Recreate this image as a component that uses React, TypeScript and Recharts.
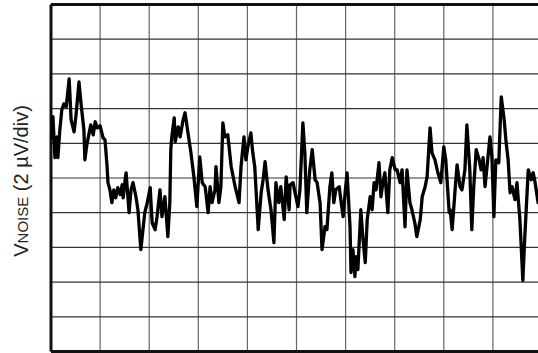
import React from 'react';
import { LineChart, Line, XAxis, YAxis, CartesianGrid, ReferenceLine } from 'recharts';

// time (s), 1 s/div
const timeS = [
  0.02, 0.04, 0.08, 0.12, 0.14, 0.18, 0.22, 0.26, 0.31, 0.37, 0.41, 0.47, 0.51, 0.57, 0.61, 0.67, 0.69, 0.73, 0.75, 0.81,
  0.86, 0.9, 0.94, 1.0, 1.06, 1.1, 1.14, 1.16, 1.2, 1.24, 1.28, 1.32, 1.36, 1.41, 1.45, 1.47, 1.51, 1.53, 1.57, 1.59,
  1.63, 1.67, 1.73, 1.77, 1.83, 1.91, 1.96, 2.02, 2.06, 2.12, 2.16, 2.22, 2.26, 2.32, 2.38, 2.42, 2.44, 2.46, 2.51, 2.53,
  2.59, 2.63, 2.69, 2.73, 2.79, 2.85, 2.91, 2.97, 3.03, 3.08, 3.14, 3.2,
  3.24, 3.28, 3.34, 3.36, 3.42, 3.46, 3.5, 3.54, 3.6, 3.67, 3.71, 3.75, 3.83, 3.87, 3.93, 3.97, 4.01, 4.07, 4.11, 4.15,
  4.22, 4.28, 4.32, 4.36, 4.42, 4.48, 4.54, 4.58, 4.64, 4.68, 4.75, 4.79, 4.85,
  4.87, 4.93, 4.97, 5.03, 5.07, 5.13, 5.17, 5.21, 5.27, 5.32, 5.38, 5.42, 5.48, 5.52, 5.58, 5.62, 5.68, 5.72, 5.76, 5.8,
  5.87, 5.91, 5.95, 5.99, 6.03, 6.09, 6.11, 6.15, 6.19, 6.21, 6.25, 6.31, 6.35, 6.4, 6.44, 6.5,
  6.54, 6.58, 6.62, 6.68, 6.72, 6.76, 6.8, 6.86, 6.9, 6.95, 7.01, 7.05, 7.11, 7.15, 7.21, 7.25, 7.31, 7.35, 7.41, 7.45,
  7.52, 7.56, 7.62, 7.66, 7.72, 7.76, 7.82, 7.88, 7.94, 8.0, 8.04, 8.11,
  8.13, 8.17, 8.23, 8.27, 8.33, 8.37, 8.43, 8.47, 8.53, 8.57, 8.61, 8.66, 8.72, 8.76, 8.8, 8.84, 8.88, 8.94, 8.98, 9.02,
  9.06, 9.12, 9.17, 9.23, 9.27, 9.31, 9.35, 9.39, 9.45, 9.49, 9.55, 9.61, 9.65, 9.72, 9.78, 9.82, 9.86, 9.92, 9.98,
];

// noise voltage (µV), 2 µV/div
const noiseUV = [
  2.2, 3.53, 1.17, 2.37, 1.17, 2.78, 3.93, 4.27, 4.1, 5.71, 3.35, 2.66, 3.64, 5.54, 4.33, 2.78, 1.05, 1.91, 2.2, 3.06,
  2.49, 3.24, 2.89, 3.01, 2.32, 2.2, 0.76, -0.27, -0.68, -1.42, -0.68, -1.14, -0.56, -0.96, -0.39, -1.14, -0.1, 0.3, -1.25, -2.0,
  -0.68, -0.27, -1.08, -1.83, -4.13, -2.0, -1.42, -0.56, -2.58, -2.98, -2.23, -0.68, -2.23, -1.08, -3.38, -1.42, 1.63, 2.37, 3.47, 2.09,
  2.95, 2.37, 3.35, 3.76, 2.6, 1.45, 0.07, -1.65, 1.22, -0.27, -0.5, -2.0,
  -0.5, -1.42, -0.68, 0.65, -1.42, -0.5, 3.18, 2.37, 2.49, 0.65, 0.07, -0.5, -1.42, 0.65, 2.37, 1.05, 1.8, 2.6, 1.45, 0.65,
  -2.98, -0.85, -0.1, 0.94, -0.68, -1.83, -3.73, -0.27, -1.42, -0.5, -2.4, 0.07, -1.83,
  -0.39, -0.27, -0.85, -1.65, -0.68, 3.18, 1.45, -2.0, 0.47, 1.63, -0.1, -0.27, -1.42, -4.13, -2.81, -2.98, -0.5, 0.3, -1.42, -0.68,
  -0.5, -1.42, -2.23, -0.85, 0.3, -2.81, -5.45, -4.13, -5.68, -4.53, -5.28, -1.83, -3.38, -4.88, -2.4, -1.08,
  -1.83, -0.27, -0.68, 0.88, -1.08, -0.27, 0.3, -2.0, 0.47, 1.17, 0.47, 0.47, -0.27, 0.47, -2.81, 0.47, -1.42, -1.83, -2.58, -3.38,
  -2.4, -1.08, -0.5, 0.07, 2.89, 1.45, 1.05, 0.3, -0.27, 1.8, 1.05, -2.0,
  -1.83, -2.98, -0.68, 0.76, -0.5, -0.68, 0.47, 3.06, 0.47, -2.98, -0.5, 1.63, 1.05, 0.47, 1.17, -0.5, 0.65, 2.37, 1.22, -2.23,
  1.05, 0.88, 4.68, 3.35, 2.03, 1.05, -0.85, -0.5, -1.25, -0.27, -2.4, -5.9, -3.38, 0.47, -0.1, 0.3, -0.27, -1.42, -0.68,
];

const xTicks = [0, 1, 2, 3, 4, 5, 6, 7, 8, 9, 10];
const yTicks = [-10, -8, -6, -4, -2, 0, 2, 4, 6, 8, 10];

const data = timeS.map((t, i) => ({ t, v: noiseUV[i] }));

export default function App() {
  return (
    <div style={{ position: 'fixed', left: 0, top: 0, width: 538, height: 353, overflow: 'hidden', background: '#fff' }}>
      <LineChart width={560} height={353} data={data} margin={{ top: 4.5, right: 18, bottom: 1.5, left: 51 }}>
        <CartesianGrid horizontal={false} stroke="#666" strokeWidth={1.2} />
        <CartesianGrid vertical={false} stroke="#333" strokeWidth={1.2} />
        <XAxis dataKey="t" type="number" domain={[0, 10]} ticks={xTicks} hide />
        <YAxis type="number" domain={[-10, 10]} ticks={yTicks} hide />
        <ReferenceLine x={0} stroke="#111" strokeWidth={3} />
        <ReferenceLine x={10} stroke="#111" strokeWidth={3} />
        <ReferenceLine y={10} stroke="#111" strokeWidth={3} />
        <ReferenceLine y={-10} stroke="#111" strokeWidth={3} />
        <Line
          type="linear"
          dataKey="v"
          stroke="#000"
          strokeWidth={3.3}
          strokeLinejoin="round"
          dot={false}
          isAnimationActive={false}
        />
      </LineChart>
      <svg width={50} height={353} style={{ position: 'absolute', left: 0, top: 0 }}>
        <text
          transform="rotate(-90)"
          x={-181}
          y={28}
          textAnchor="middle"
          fill="#222"
          fontFamily="'Liberation Sans', Arial, sans-serif"
        >
          <tspan fontSize={20}>V</tspan>
          <tspan fontSize={15}>NOISE</tspan>
          <tspan fontSize={20}> (2 µV/div)</tspan>
        </text>
      </svg>
    </div>
  );
}
